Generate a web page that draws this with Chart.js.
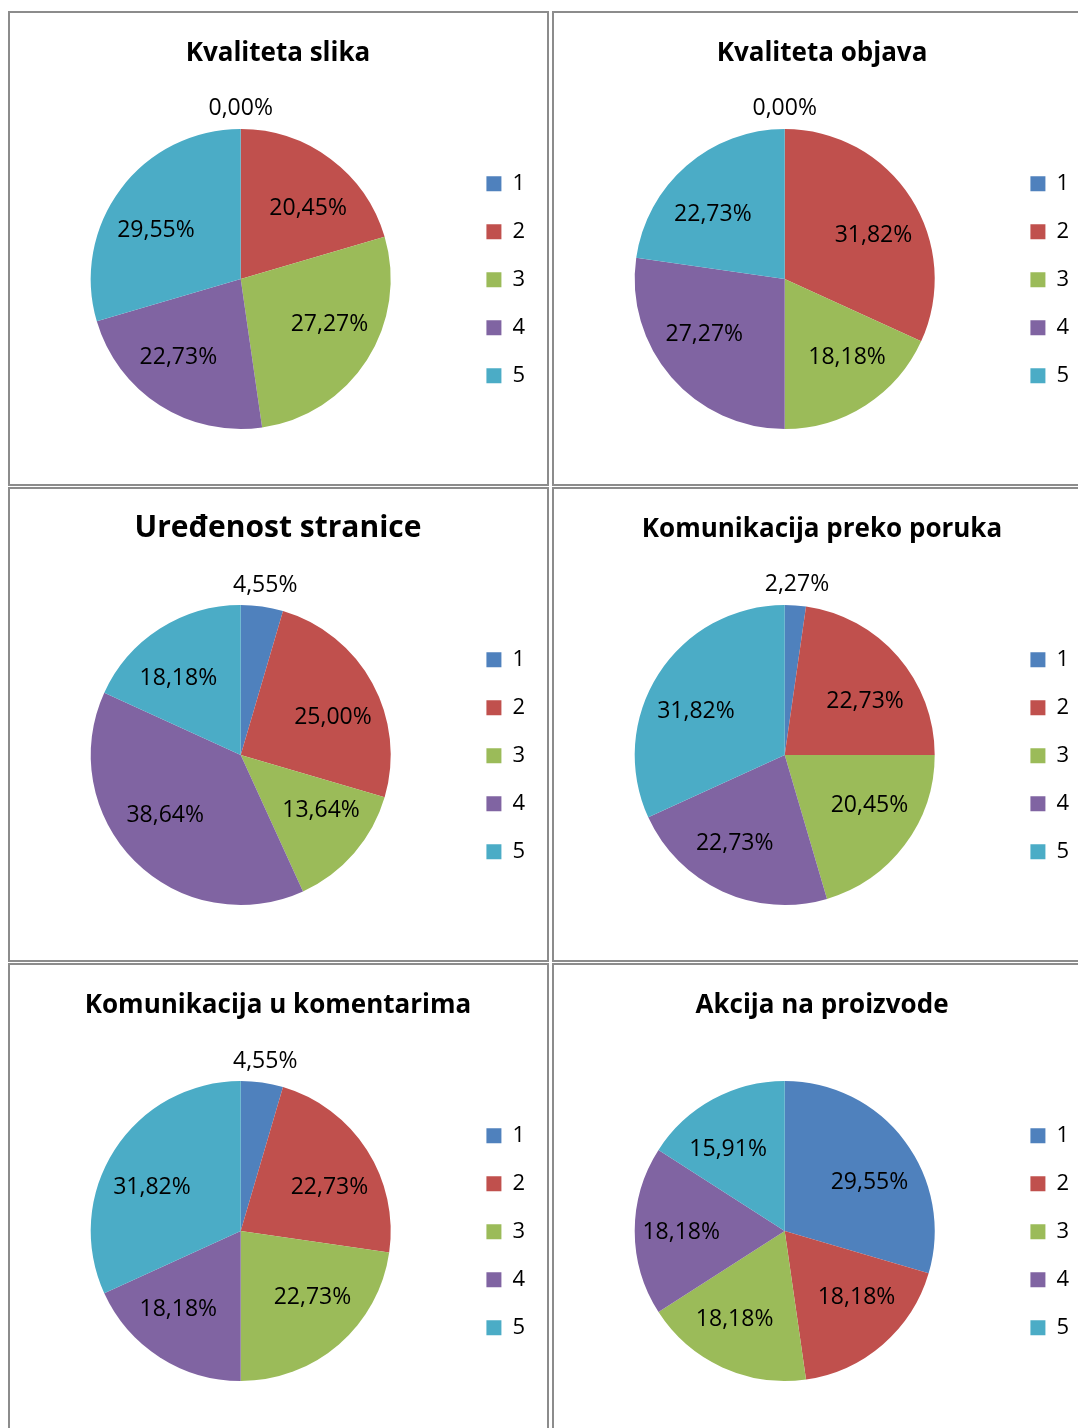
<!DOCTYPE html>
<html>
<head>
<meta charset="utf-8">
<script src="https://cdn.jsdelivr.net/npm/chart.js@4.4.1/dist/chart.umd.min.js"></script>
<style>
  html, body { margin: 0; padding: 0; background: #fff; overflow: hidden; width: 1078px; height: 1428px; }
  .cell { position: absolute; box-sizing: border-box; width: 541px; height: 475px; border: 2px solid #8c8c8c; background: #fff; }
  .cell canvas { display: block; }
</style>
</head>
<body>
<div class="cell" style="left:8px;top:11px"><canvas id="c1" width="537" height="471"></canvas></div>
<div class="cell" style="left:552px;top:11px"><canvas id="c2" width="537" height="471"></canvas></div>
<div class="cell" style="left:8px;top:487px"><canvas id="c3" width="537" height="471"></canvas></div>
<div class="cell" style="left:552px;top:487px"><canvas id="c4" width="537" height="471"></canvas></div>
<div class="cell" style="left:8px;top:963px"><canvas id="c5" width="537" height="471"></canvas></div>
<div class="cell" style="left:552px;top:963px"><canvas id="c6" width="537" height="471"></canvas></div>
<script>
// ocjene 1-5, udio odgovora u %
const categories = ['1', '2', '3', '4', '5'];

const kvalitetaSlika = [0, 20.45, 27.27, 22.73, 29.55];
const kvalitetaObjava = [0, 31.82, 18.18, 27.27, 22.73];
const uredenostStranice = [4.55, 25.00, 13.64, 38.64, 18.18];
const komunikacijaPoruke = [2.27, 22.73, 20.45, 22.73, 31.82];
const komunikacijaKomentari = [4.55, 22.73, 22.73, 18.18, 31.82];
const akcijaProizvodi = [29.55, 18.18, 18.18, 18.18, 15.91];

const colors = ['#4F81BD', '#C0504D', '#9BBB59', '#8064A2', '#4BACC6'];

Chart.defaults.font.family = "'Open Sans', sans-serif";
Chart.defaults.color = '#000';

// postoci na kriskama (mali udjeli idu izvan kruga)
const pctLabels = {
  id: 'pctLabels',
  afterDatasetsDraw(chart) {
    const ctx = chart.ctx;
    const values = chart.data.datasets[0].data;
    ctx.save();
    ctx.font = "23px 'Open Sans', sans-serif";
    ctx.fillStyle = '#000';
    ctx.textAlign = 'center';
    ctx.textBaseline = 'middle';
    chart.getDatasetMeta(0).data.forEach((arc, i) => {
      const p = arc.getProps(['x', 'y', 'startAngle', 'endAngle', 'outerRadius'], true);
      let a = (p.startAngle + p.endAngle) / 2;
      let r;
      if (values[i] < 5) {
        r = p.outerRadius + 22;
      } else {
        // otprilike kao Excelov "best fit": malo prema vodoravnoj osi
        r = p.outerRadius * (0.64 + 0.05 * Math.abs(Math.cos(2 * a)));
        a = a - 0.12 * Math.sin(2 * a);
      }
      const txt = values[i].toFixed(2).replace('.', ',') + '%';
      ctx.fillText(txt, p.x + Math.cos(a) * r, p.y + Math.sin(a) * r + 1);
    });
    ctx.restore();
  }
};

function makePie(id, title, values, titleSize) {
  const lh = titleSize * 1.2;
  const padTop = (titleSize > 26 ? 39 : 41) - lh / 2;
  new Chart(document.getElementById(id), {
    type: 'pie',
    data: {
      labels: categories,
      datasets: [{
        data: values,
        backgroundColor: colors,
        borderWidth: 0
      }]
    },
    options: {
      responsive: false,
      animation: false,
      layout: { padding: { left: 11, right: 12, top: 0, bottom: 55 } },
      plugins: {
        title: {
          display: true,
          text: title,
          font: { size: titleSize, weight: 'bold' },
          padding: { top: padTop, bottom: 116 - padTop - lh }
        },
        legend: {
          position: 'right',
          align: 'center',
          // prazan naslov legende samo spušta stavke do sredine kruga
          title: { display: true, text: ' ', padding: { top: 51.5, bottom: 51.5 } },
          labels: {
            boxWidth: 15,
            boxHeight: 15,
            padding: 26,
            font: { size: 22 }
          }
        },
        tooltip: { enabled: false }
      }
    },
    plugins: [pctLabels]
  });
}

makePie('c1', 'Kvaliteta slika', kvalitetaSlika, 26);
makePie('c2', 'Kvaliteta objava', kvalitetaObjava, 26);
makePie('c3', 'Uređenost stranice', uredenostStranice, 30);
makePie('c4', 'Komunikacija preko poruka', komunikacijaPoruke, 26);
makePie('c5', 'Komunikacija u komentarima', komunikacijaKomentari, 26);
makePie('c6', 'Akcija na proizvode', akcijaProizvodi, 26);
</script>
</body>
</html>
